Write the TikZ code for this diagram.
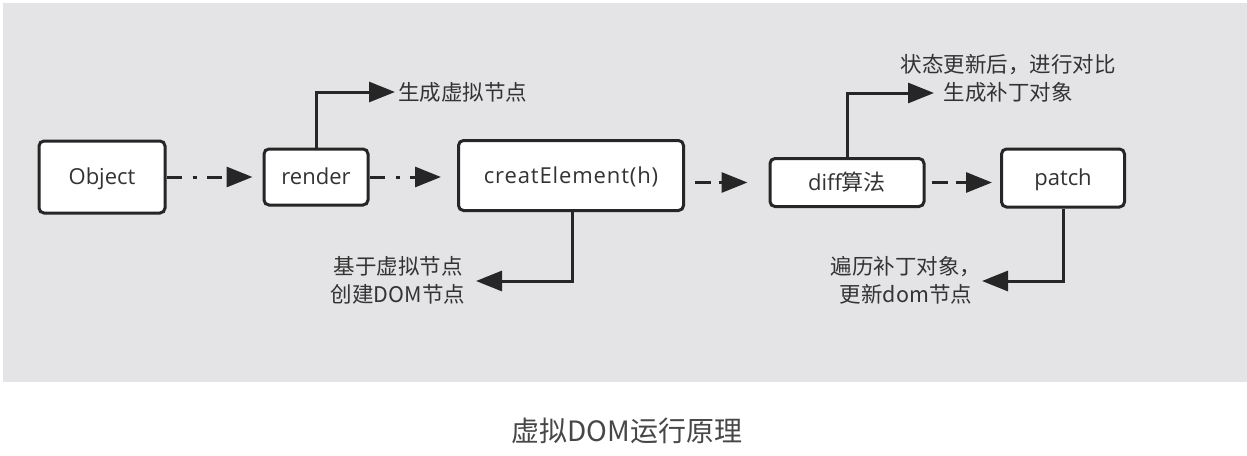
\documentclass[tikz,border=0pt]{standalone}
\usepackage{fontspec}
\setmainfont{Open Sans}
\newfontfamily\cjk{Noto Sans CJK SC}
\usepackage{tikz}
\usetikzlibrary{arrows.meta}
\usetikzlibrary{positioning}
\definecolor{bggray}{RGB}{228,227,230}
\definecolor{linegray}{RGB}{38,38,38}
\definecolor{textgray}{RGB}{51,51,51}
\tikzstyle{block} = [draw=linegray, fill=white, rectangle, line width=3pt,
    rounded corners=5pt, inner sep=0pt, text=textgray,
    text height=15.7pt, text depth=0pt,
    font=\fontsize{22}{26}\selectfont]
\tikzstyle{note} = [text=textgray, inner sep=0pt, align=center,
    font=\cjk\fontsize{21.5}{28}\selectfont]
\tikzstyle{link} = [line width=3pt, draw=linegray, ->]
\tikzstyle{dashdot} = [dash pattern=on 15pt off 11pt on 4pt off 10pt]
\tikzstyle{dashonly} = [dash pattern=on 16pt off 8pt]
\tikzstyle{output} = [coordinate]

\begin{document}
\begin{tikzpicture}[x=1pt, y=-1pt, >={Triangle[length=26pt,width=20pt]}]
    \useasboundingbox (0,0) rectangle (1247,455);
    \fill [bggray] (3,3) rectangle (1247,382);
    \node [block, minimum width=126pt, minimum height=72pt] at (102,177) (obj) {Object};
    \node [block, minimum width=104pt, minimum height=56pt] at (316,177) (render) {render};
    \node [block, minimum width=225pt, minimum height=70pt] at (571,175.5) (create) {\addfontfeature{LetterSpace=4}creatElement(h)};
    \node [block, minimum width=154pt, minimum height=48pt] at (847,182.5) (diff) {diff{\cjk 算法}};
    \node [block, minimum width=123pt, minimum height=58pt] at (1063,178) (patch) {patch};
    \node [output, name=renderup] at (316,92) {};
    \node [output, name=diffup] at (847,93) {};
    \node [output, name=createdown] at (572,281) {};
    \node [output, name=patchdown] at (1063,281) {};
    \node [output, name=vnodetip] at (395,92) {};
    \node [output, name=diffouttip] at (934,93) {};
    \node [output, name=domtip] at (476,281) {};
    \node [output, name=patchouttip] at (982,281) {};
    \draw [link, dashdot, shorten >=10pt] (obj.east) -- (obj.east -| render.west);
    \draw [link, dashdot, shorten >=16pt] (render.east) -- (render.east -| create.west);
    \draw [link, dashonly, shorten <=10pt, shorten >=21pt] (create.east |- diff.west) -- (diff.west);
    \draw [link, dashonly, shorten <=6pt, shorten >=8pt] (diff.east) -- (diff.east -| patch.west);
    \draw [link] (render.north) -- (renderup) -- (vnodetip);
    \draw [link] (diff.north) -- (diffup) -- (diffouttip);
    \draw [link] (create.south -| createdown) -- (createdown) -- (domtip);
    \draw [link] (patch.south) -- (patchdown) -- (patchouttip);
    \node [note, anchor=west] at (398,92) (vnode) {生成虚拟节点};
    \node [note] at (1008,78) (diffnote) {状态更新后，进行对比\\生成补丁对象};
    \node [note] at (398,280) (domnote) {基于虚拟节点\\创建DOM节点};
    \node [note] at (906,280) (patchnote) {遍历补丁对象，\\更新dom节点};
    \node [text=textgray!90, font=\cjk\fontsize{28}{32}\selectfont] at (627,431) (caption) {虚拟DOM运行原理};
\end{tikzpicture}
\end{document}
